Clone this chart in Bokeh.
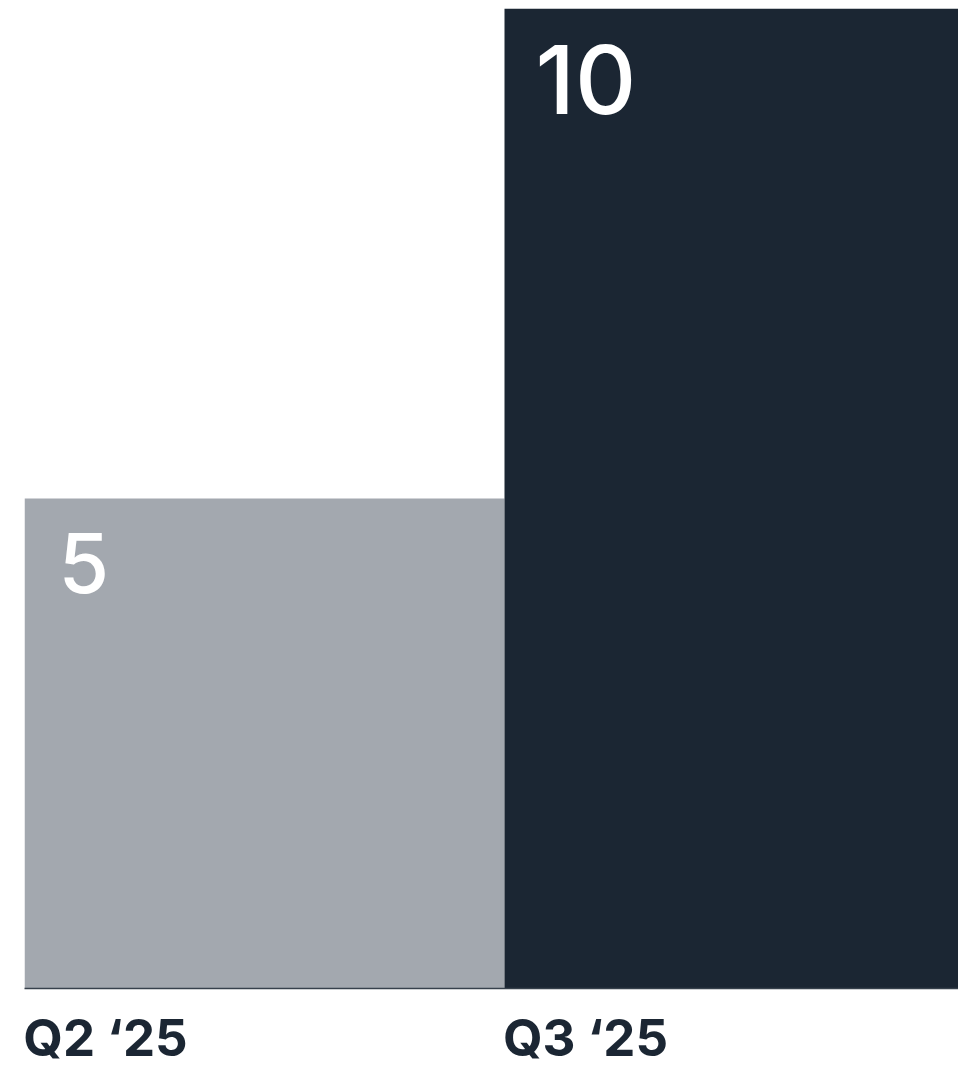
from bokeh.plotting import figure
from bokeh.models import Range1d, ColumnDataSource, FixedTicker
from bokeh.core.properties import value
from bokeh.embed import file_html
from bokeh.resources import INLINE

categories = ["Q2 \u201825", "Q3 \u201825"]
values = [5, 10]
colors = ["#A3A8AF", "#1B2633"]
label_sizes = ["82px", "95px"]
label_offsets = [64, 71]
label_xoff = [34, 31]

W, H = 958, 1070
left, top, bottom = 24, 8, 80
frame_w = W - left
bar_px = 480.0
half_label_px = 81.0  # axis labels are centred on ticks; shift so they start at bar edge

p = figure(width=W, height=H, output_backend="svg", toolbar_location=None,
           x_range=Range1d(0, frame_w / bar_px), y_range=Range1d(0, 10),
           min_border_left=left, min_border_right=0, min_border_top=top,
           min_border_bottom=bottom, y_axis_location=None)
p.grid.visible = False
p.outline_line_color = None
p.background_fill_color = "white"
p.border_fill_color = "white"

idx = list(range(len(categories)))
ticks = [i + half_label_px / bar_px for i in idx]
xa = p.xaxis[0]
xa.ticker = FixedTicker(ticks=ticks)
xa.major_label_overrides = {t: c for t, c in zip(ticks, categories)}
xa.major_label_text_font = "Inter"
xa.major_label_text_font_size = "51px"
xa.major_label_text_font_style = "bold"
xa.major_label_text_color = "#1B2633"
xa.major_label_standoff = 18
xa.major_tick_line_color = None
xa.minor_tick_line_color = None
xa.major_tick_in = 0
xa.major_tick_out = 0
xa.minor_tick_in = 0
xa.minor_tick_out = 0
xa.axis_line_color = "#37414c"
xa.axis_line_width = 1.5

src = ColumnDataSource(dict(
    x=[i + 0.5 for i in idx], xl=[float(i) for i in idx], top=values,
    color=colors, lab=[str(v) for v in values],
    size=label_sizes, yoff=label_offsets, xoff=label_xoff))

p.vbar(x="x", width=1, bottom=0, top="top", fill_color="color",
       line_color=None, source=src)

p.text(x="xl", y="top", text="lab", source=src, x_offset="xoff",
       y_offset="yoff", text_color="white",
       text_font=value("Inter Medium, Inter"), text_font_size="size",
       text_baseline="alphabetic", text_align="left")

open("out.html", "w").write(file_html(p, INLINE))
